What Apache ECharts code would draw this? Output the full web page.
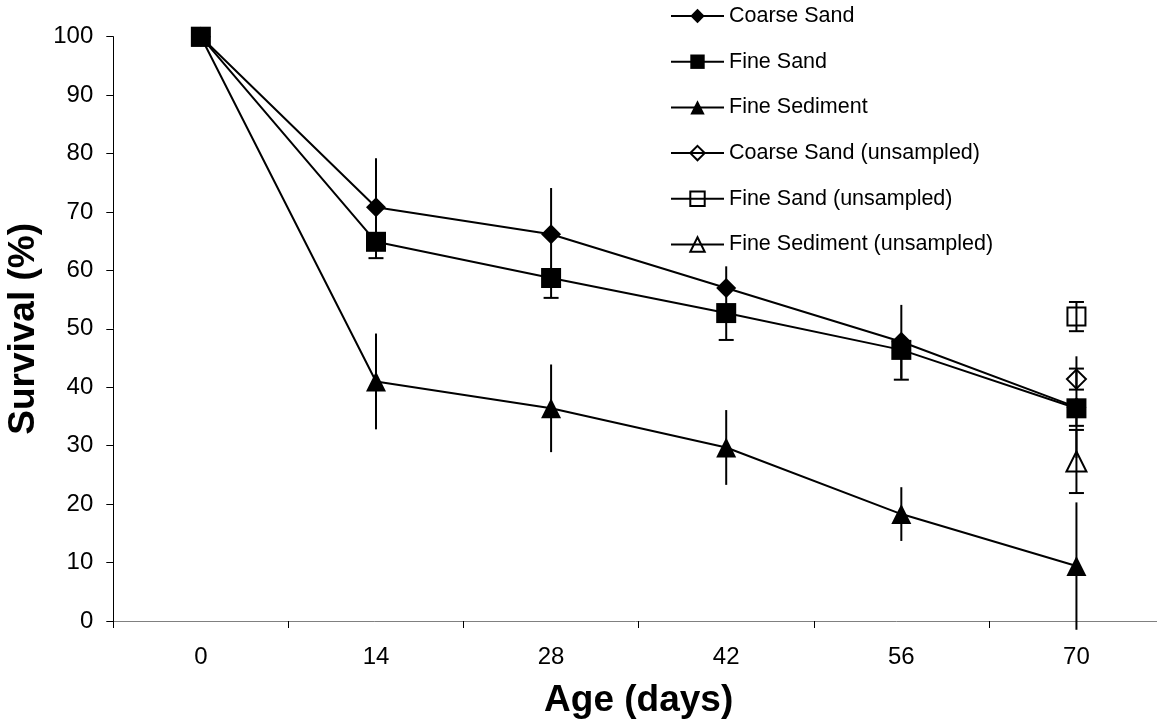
<!DOCTYPE html>
<html>
<head>
<meta charset="utf-8">
<script src="https://cdn.jsdelivr.net/npm/echarts@6/dist/echarts.min.js"></script>
<style>
html,body{margin:0;padding:0;background:#fff;}
#chart{width:1157px;height:724px;}
</style>
</head>
<body>
<div id="chart"></div>
<script>
// ---- data ----
var categories = ['0', '14', '28', '42', '56', '70'];

var coarseSand = [100, 70.8, 66.2, 57.0, 47.8, 36.6];
var coarseSandErr = [0, 8.4, 7.9, 3.7, 6.3, 8.7];          // +/- (no caps)

var fineSand = [100, 64.9, 58.7, 52.7, 46.4, 36.4];
var fineSandErrMinus = [0, 2.8, 3.4, 4.6, 5.1, 3.0];      // minus only (capped)

var fineSediment = [100, 41.0, 36.4, 29.7, 18.3, 9.4];
var fineSedimentErr = [0, 8.2, 7.5, 6.4, 4.6, 10.9];      // +/- (no caps)

var coarseSandUns = [null, null, null, null, null, 41.4];
var coarseSandUnsErr = [0, 0, 0, 0, 0, 1.8];
var fineSandUns = [null, null, null, null, null, 52.1];
var fineSandUnsErr = [0, 0, 0, 0, 0, 2.5];
var fineSedimentUns = [null, null, null, null, null, 27.3];
var fineSedimentUnsErr = [0, 0, 0, 0, 0, 5.4];

var seriesNames = ['Coarse Sand', 'Fine Sand', 'Fine Sediment',
  'Coarse Sand (unsampled)', 'Fine Sand (unsampled)', 'Fine Sediment (unsampled)'];

// ---- helpers ----
function errData(vals, errMinus, errPlus) {
  var out = [];
  for (var i = 0; i < vals.length; i++) {
    if (vals[i] == null) continue;
    var lo = errMinus[i], hi = errPlus ? errPlus[i] : 0;
    if (!lo && !hi) continue;
    out.push([i, vals[i] - lo, vals[i] + hi]);
  }
  return out;
}

function errSeries(data, capLow, capHigh) {
  return {
    type: 'custom',
    silent: true,
    z: 5,
    clip: false,
    data: data,
    renderItem: function (params, api) {
      var pLo = api.coord([api.value(0), api.value(1)]);
      var pHi = api.coord([api.value(0), api.value(2)]);
      var style = { stroke: '#000', lineWidth: 2 };
      var half = 7.5;
      var children = [{
        type: 'line',
        shape: { x1: pLo[0], y1: pLo[1], x2: pHi[0], y2: pHi[1] },
        style: style
      }];
      if (capLow) children.push({
        type: 'line',
        shape: { x1: pLo[0] - half, y1: pLo[1], x2: pLo[0] + half, y2: pLo[1] },
        style: style
      });
      if (capHigh) children.push({
        type: 'line',
        shape: { x1: pHi[0] - half, y1: pHi[1], x2: pHi[0] + half, y2: pHi[1] },
        style: style
      });
      return { type: 'group', children: children };
    }
  };
}

function lineSeries(name, data, symbol, size, open) {
  return {
    name: name,
    type: 'line',
    data: data,
    symbol: symbol,
    symbolSize: size,
    showAllSymbol: true,
    connectNulls: false,
    clip: false,
    z: open ? 6 : 3,
    lineStyle: { color: '#000', width: 2 },
    itemStyle: open
      ? { color: 'rgba(0,0,0,0)', borderColor: '#000', borderWidth: 2 }
      : { color: '#000', borderWidth: 0 },
    emphasis: { disabled: true }
  };
}

var openStyle = { color: 'rgba(0,0,0,0)', borderColor: '#000', borderWidth: 2 };
var legendLine = { width: 2, color: '#000' };
var FONT = '"Liberation Sans", Arial, sans-serif';

var option = {
  animation: false,
  backgroundColor: '#fff',
  grid: {
    left: 113.3, top: 36.7, bottom: 103, right: -7,
    containLabel: false,
    outerBoundsMode: 'none'
  },
  legend: {
    orient: 'vertical',
    left: 645,
    top: 0,
    padding: [4, 10, 5, 25],
    backgroundColor: '#fff',
    itemWidth: 53,
    itemHeight: 18,
    itemGap: 21.7,
    selectedMode: false,
    lineStyle: legendLine,
    textStyle: { fontFamily: FONT, fontSize: 21.5, color: '#000', lineHeight: 24 },
    data: [
      { name: seriesNames[0], lineStyle: legendLine },
      { name: seriesNames[1], lineStyle: legendLine },
      { name: seriesNames[2], lineStyle: legendLine },
      { name: seriesNames[3], itemStyle: openStyle, lineStyle: legendLine },
      { name: seriesNames[4], itemStyle: openStyle, lineStyle: legendLine },
      { name: seriesNames[5], itemStyle: openStyle, lineStyle: legendLine }
    ]
  },
  xAxis: {
    type: 'category',
    data: categories,
    boundaryGap: true,
    name: 'Age (days)',
    nameLocation: 'middle',
    nameGap: 61,
    nameTextStyle: { fontFamily: FONT, fontSize: 37, fontWeight: 'bold', color: '#000' },
    axisLine: { show: true, lineStyle: { color: '#808080', width: 1 } },
    axisTick: { show: true, length: 7, lineStyle: { color: '#000', width: 1 } },
    axisLabel: { fontFamily: FONT, fontSize: 24, color: '#000', margin: 24 },
    splitLine: { show: false }
  },
  yAxis: {
    type: 'value',
    min: 0,
    max: 100,
    interval: 10,
    name: 'Survival (%)',
    nameLocation: 'middle',
    nameGap: 68,
    nameRotate: 90,
    nameTextStyle: { fontFamily: FONT, fontSize: 37, fontWeight: 'bold', color: '#000' },
    axisLine: { show: true, lineStyle: { color: '#000', width: 1 } },
    axisTick: { show: true, length: 7, lineStyle: { color: '#000', width: 1 } },
    axisLabel: { fontFamily: FONT, fontSize: 24, color: '#000', margin: 20 },
    splitLine: { show: false }
  },
  series: [
    lineSeries(seriesNames[0], coarseSand, 'diamond', 20, false),
    lineSeries(seriesNames[1], fineSand, 'rect', 20, false),
    lineSeries(seriesNames[2], fineSediment, 'triangle', 20, false),
    lineSeries(seriesNames[3], coarseSandUns, 'diamond', 19, true),
    lineSeries(seriesNames[4], fineSandUns, 'rect', 18, true),
    lineSeries(seriesNames[5], fineSedimentUns, 'triangle', 20, true),
    errSeries(errData(coarseSand, coarseSandErr, coarseSandErr), false, false),
    errSeries(errData(fineSand, fineSandErrMinus, null), true, false),
    errSeries(errData(fineSediment, fineSedimentErr, fineSedimentErr), false, false),
    errSeries(errData(coarseSandUns, coarseSandUnsErr, coarseSandUnsErr), true, true),
    errSeries(errData(fineSandUns, fineSandUnsErr, fineSandUnsErr), true, true),
    errSeries(errData(fineSedimentUns, fineSedimentUnsErr, fineSedimentUnsErr), true, true)
  ]
};

var chart = echarts.init(document.getElementById('chart'), null, { renderer: 'canvas' });
chart.setOption(option);
</script>
</body>
</html>
